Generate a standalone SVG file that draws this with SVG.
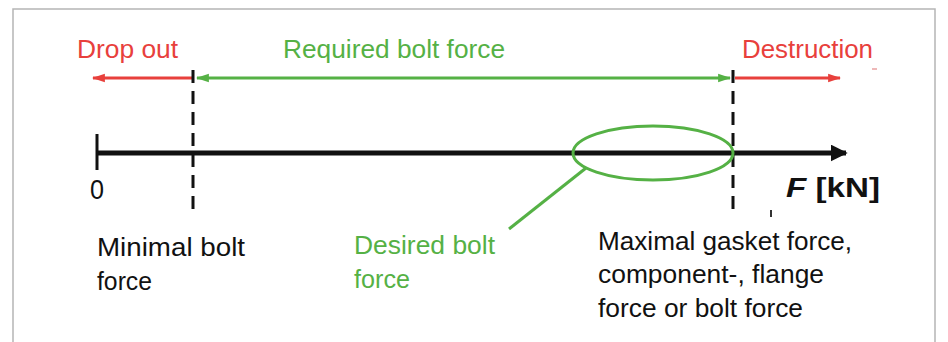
<svg xmlns="http://www.w3.org/2000/svg" width="948" height="342" viewBox="0 0 948 342">
<style>
  .t { font-family: "Liberation Sans", Arial, sans-serif; font-size: 25px; }
  .top { font-size: 25px; }
  .red { fill: #e8403c; }
  .grn { fill: #55b145; }
  .blk { fill: #111; }
  .dash { stroke: #111; stroke-width: 3; stroke-dasharray: 13 8; fill: none; }
</style>
<defs>
  <marker id="ar" viewBox="0 0 12 10" refX="11" refY="5" markerWidth="4.5" markerHeight="3.6" orient="auto" markerUnits="strokeWidth">
    <path d="M0,1 L12,5 L0,9 Z" fill="#e8403c"/>
  </marker>
  <marker id="ag" viewBox="0 0 12 10" refX="11" refY="5" markerWidth="4.5" markerHeight="3.6" orient="auto-start-reverse" markerUnits="strokeWidth">
    <path d="M0,1 L12,5 L0,9 Z" fill="#55b145"/>
  </marker>
  <marker id="ab" viewBox="0 0 10 10" refX="9" refY="5" markerWidth="3.4" markerHeight="3.4" orient="auto" markerUnits="strokeWidth">
    <path d="M0,0 L10,5 L0,10 Z" fill="#111"/>
  </marker>
</defs>
<rect width="948" height="342" fill="#fff"/>
<path d="M13,342 V9 H935 V342" fill="none" stroke="#b5b5b5" stroke-width="1.5"/>

<g id="connectors">
  <line x1="193" y1="78" x2="93" y2="78" stroke="#e8403c" stroke-width="3" marker-end="url(#ar)"/>
  <line x1="197" y1="78" x2="730" y2="78" stroke="#55b145" stroke-width="3" marker-start="url(#ag)" marker-end="url(#ag)"/>
  <line x1="735" y1="78" x2="840" y2="78" stroke="#e8403c" stroke-width="3" marker-end="url(#ar)"/>
  <line class="dash" x1="193" y1="70" x2="193" y2="216"/>
  <line class="dash" x1="733" y1="70" x2="733" y2="216"/>
  <line x1="97" y1="153" x2="846" y2="153" stroke="#111" stroke-width="5" marker-end="url(#ab)"/>
  <line x1="97" y1="134" x2="97" y2="170" stroke="#111" stroke-width="3"/>
  <line x1="586" y1="168" x2="509" y2="229" stroke="#55b145" stroke-width="3"/>
  <line x1="771" y1="210" x2="771" y2="217" stroke="#333" stroke-width="2"/>
  <line x1="872" y1="69" x2="877" y2="69" stroke="#e8a0a0" stroke-width="1.5"/>
</g>

<g id="desired-ellipse">
  <ellipse cx="653" cy="153" rx="80" ry="27" fill="none" stroke="#55b145" stroke-width="3"/>
</g>

<g id="drop-out"><text class="t top red" x="77" y="58" textLength="101" lengthAdjust="spacingAndGlyphs">Drop out</text></g>
<g id="required"><text class="t top grn" x="283" y="58" textLength="222" lengthAdjust="spacingAndGlyphs">Required bolt force</text></g>
<g id="destruction"><text class="t top red" x="742" y="58" textLength="131" lengthAdjust="spacingAndGlyphs">Destruction</text></g>
<g id="zero"><text class="t blk" x="90" y="199" style="font-size:28px" textLength="14" lengthAdjust="spacingAndGlyphs">0</text></g>
<g id="axis-label"><text class="blk" x="786" y="197" textLength="94" lengthAdjust="spacingAndGlyphs" style="font-family:'Liberation Sans',Arial,sans-serif;font-size:28px;font-weight:bold"><tspan font-style="italic">F</tspan> [kN]</text></g>
<g id="minimal"><text class="t blk" x="97" y="256" textLength="148" lengthAdjust="spacingAndGlyphs">Minimal bolt</text><text class="t blk" x="97" y="290" textLength="55" lengthAdjust="spacingAndGlyphs">force</text></g>
<g id="desired"><text class="t grn" x="354" y="254" textLength="141" lengthAdjust="spacingAndGlyphs">Desired bolt</text><text class="t grn" x="354" y="288" textLength="56" lengthAdjust="spacingAndGlyphs">force</text></g>
<g id="maximal"><text class="t blk" x="598" y="250" textLength="254" lengthAdjust="spacingAndGlyphs">Maximal gasket force,</text><text class="t blk" x="598" y="283" textLength="226" lengthAdjust="spacingAndGlyphs">component-, flange</text><text class="t blk" x="598" y="317" textLength="205" lengthAdjust="spacingAndGlyphs">force or bolt force</text></g>
</svg>
